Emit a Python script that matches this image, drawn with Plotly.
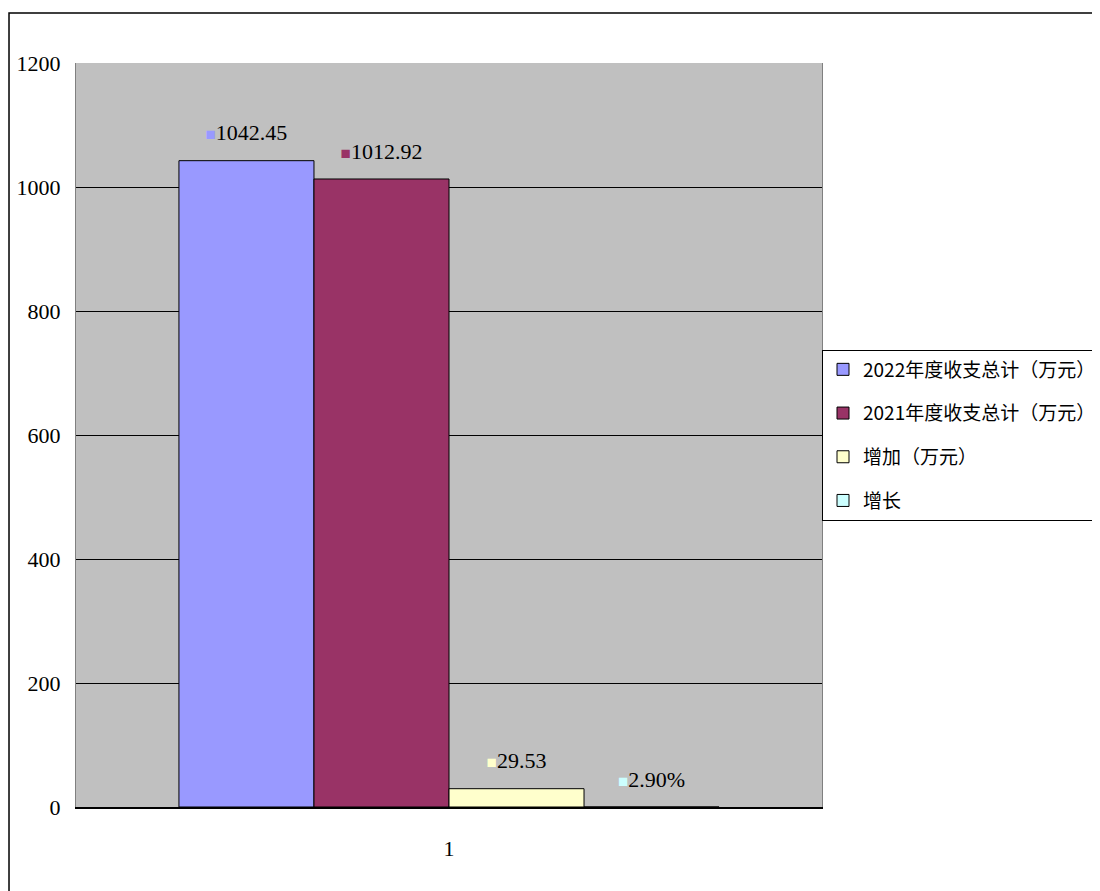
import plotly.graph_objects as go

categories = ["1"]
series_names = ["2022年度收支总计（万元）", "2021年度收支总计（万元）", "增加（万元）", "增长"]
series_values = [1042.45, 1012.92, 29.53, 0.029]
series_labels = ["1042.45", "1012.92", "29.53", "2.90%"]
series_colors = ["#9999FF", "#993366", "#FFFFCC", "#CCFFFF"]
y_ticks = [0, 200, 400, 600, 800, 1000, 1200]

num_font = "Liberation Serif, Noto Sans CJK SC, serif"
cjk_font = "Noto Sans CJK SC, Liberation Serif, sans-serif"

fig = go.Figure()
for i, (name, val, col) in enumerate(zip(series_names, series_values, series_colors)):
    fig.add_trace(go.Bar(
        x=categories,
        y=[val],
        name=name,
        legendgroup=f"g{i}",
        marker=dict(color=col, line=dict(color="#000000", width=1)),
        hoverinfo="skip",
    ))

# data labels, grouped like the bars
for i, (val, lab, col) in enumerate(zip(series_values, series_labels, series_colors)):
    fig.add_trace(go.Scatter(
        x=categories,
        y=[val],
        mode="markers+text",
        marker=dict(size=22, color="rgba(0,0,0,0)"),
        text=[f'<span style="color:{col};font-size:17px">■</span>{lab}'],
        textposition="top center",
        textfont=dict(family=num_font, size=22, color="#000000"),
        showlegend=False,
        cliponaxis=False,
        hoverinfo="skip",
    ))

fig.update_layout(
    width=1100,
    height=891,
    paper_bgcolor="#FFFFFF",
    plot_bgcolor="#C0C0C0",
    margin=dict(l=68, r=286, t=55, b=92, autoexpand=False),
    barmode="group",
    scattermode="group",
    bargap=0.276,
    bargroupgap=0,
    scattergap=0.276,
    showlegend=True,
    legend=dict(
        x=1.0, xanchor="left", y=0.5, yanchor="middle",
        bgcolor="#FFFFFF", bordercolor="#000000", borderwidth=1,
        font=dict(family=cjk_font, size=19, color="#000000"),
        tracegroupgap=16,
        traceorder="grouped",
        itemwidth=30,
        entrywidth=320,
        entrywidthmode="pixels",
    ),
    xaxis=dict(
        type="category",
        showgrid=False,
        showline=True, linecolor="#000000", linewidth=1.5,
        ticks="", ticklabelstandoff=21,
        tickfont=dict(family=num_font, size=22, color="#000000"),
    ),
    yaxis=dict(
        range=[0, 1200],
        tickvals=y_ticks,
        showgrid=True, gridcolor="#000000", gridwidth=1,
        showline=True, linecolor="#808080", linewidth=1, mirror=True,
        zeroline=False,
        ticks="", ticklabelstandoff=10,
        tickfont=dict(family=num_font, size=22, color="#000000"),
    ),
    shapes=[dict(
        type="rect", xref="paper", yref="paper",
        x0=-0.0898, x1=1.40, y0=-0.13, y1=1.0672,
        line=dict(color="#000000", width=1.5),
        fillcolor="rgba(0,0,0,0)", layer="below",
    )],
)

fig.write_html("out.html")
